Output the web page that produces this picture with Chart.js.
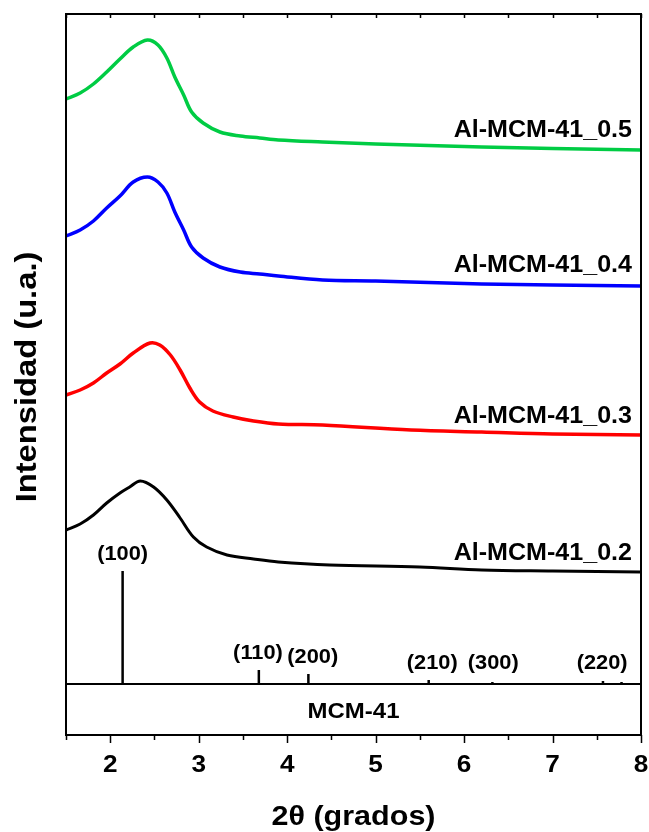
<!DOCTYPE html>
<html>
<head>
<meta charset="utf-8">
<script src="https://cdn.jsdelivr.net/npm/chart.js@4.4.1/dist/chart.umd.min.js"></script>
<style>
  body { margin: 0; background: #fff; }
  canvas { display: block; }
</style>
</head>
<body>
<canvas id="xrd" width="649" height="832"></canvas>
<script>
// 2theta (grados) / intensity (a.u., curves already stacked)
const x05 = [1.5, 1.66, 1.81, 1.96, 2.11, 2.26, 2.42, 2.54, 2.64, 2.73, 2.83, 2.92, 3.05, 3.24, 3.47, 3.69, 3.90, 4.4, 5.0, 6.2, 7.0, 8.0];
const y05 = [636, 642, 651, 663, 676, 688, 695, 690, 677, 658, 640, 623, 612, 603, 599, 597, 595, 593, 591, 588, 586.5, 585];
const x04 = x05;
const y04 = [499, 505, 514, 527, 539, 553, 558, 553, 542, 523, 505, 488, 477, 468, 463, 461, 459, 455, 454, 451, 450, 449];
const x03 = [1.5, 1.66, 1.81, 1.96, 2.11, 2.26, 2.45, 2.56, 2.68, 2.79, 2.90, 3.01, 3.16, 3.39, 3.62, 3.90, 4.4, 5.4, 6.2, 7.0, 8.0];
const y03 = [340, 345, 352, 362, 371, 382, 392, 390, 380, 365, 347, 333, 324, 318, 314, 311, 310, 305, 303, 301, 300];
const x02 = [1.5, 1.66, 1.81, 1.96, 2.11, 2.22, 2.34, 2.49, 2.64, 2.79, 2.94, 3.09, 3.32, 3.62, 3.90, 4.48, 5.5, 6.2, 7.0, 8.0];
const y02 = [205, 211, 220, 232, 242, 248, 254, 248, 235, 217, 198, 188, 180, 176, 173, 170, 168, 165, 164, 163];

const seriesNames = ['Al-MCM-41_0.5', 'Al-MCM-41_0.4', 'Al-MCM-41_0.3', 'Al-MCM-41_0.2'];

// MCM-41 reference pattern
const refPos = [2.14, 3.68, 4.24, 5.60, 6.32, 7.57, 7.78];
const refInt = [113, 14, 10, 4, 2, 3, 2];
const refBase = 51;
const refHkl = ['(100)', '(110)', '(200)', '(210)', '(300)', '(220)'];
const hklX = [2.14, 3.67, 4.29, 5.64, 6.33, 7.56];
const hklY = [175, 76, 72, 66, 66, 66];

const xTicks = [2, 3, 4, 5, 6, 7, 8];

const pts = (xs, ys) => xs.map((v, i) => ({ x: v, y: ys[i] }));

const sticks = [];
refPos.forEach((p, i) => {
  sticks.push({ x: p, y: refBase }, { x: p, y: refBase + refInt[i] }, { x: p, y: null });
});

function boldText(ctx, txt, x, y, size, align) {
  ctx.save();
  ctx.font = 'bold ' + size + 'px "Liberation Sans", Arial, sans-serif';
  ctx.fillStyle = '#000';
  ctx.translate(x, y);
  ctx.scale(1.09, 1);
  ctx.textAlign = align;
  ctx.textBaseline = 'alphabetic';
  ctx.fillText(txt, 0, 0);
  ctx.restore();
}

const tagBase = [598, 463, 312, 175];

const decor = {
  id: 'decor',
  afterDatasetsDraw(chart) {
    const { ctx, chartArea: a, scales: { x, y } } = chart;
    ctx.save();
    ctx.strokeStyle = '#000';
    ctx.lineWidth = 2;
    ctx.strokeRect(a.left, a.top, a.right - a.left, a.bottom - a.top);

    const yb = Math.round(y.getPixelForValue(refBase));
    ctx.beginPath();
    ctx.moveTo(a.left, yb);
    ctx.lineTo(a.right, yb);
    ctx.stroke();

    // ticks: outward at bottom, inward at top
    ctx.lineWidth = 1.5;
    for (let v = 1.5; v <= 8.001; v += 0.5) {
      const px = Math.round(x.getPixelForValue(v)) + 0.5;
      const major = Number.isInteger(v);
      ctx.beginPath();
      ctx.moveTo(px, a.bottom);
      ctx.lineTo(px, a.bottom + (major ? 8 : 5));
      ctx.moveTo(px, a.top);
      ctx.lineTo(px, a.top + 4);
      ctx.stroke();
    }
    ctx.restore();

    xTicks.forEach(t => boldText(ctx, String(t), x.getPixelForValue(t), 772, 24, 'center'));

    seriesNames.forEach((n, i) => boldText(ctx, n, a.right - 9, y.getPixelForValue(tagBase[i]), 23, 'right'));

    refHkl.forEach((h, i) => boldText(ctx, h, x.getPixelForValue(hklX[i]), y.getPixelForValue(hklY[i]), 20, 'center'));

    boldText(ctx, 'MCM-41', (a.left + a.right) / 2, 718, 22, 'center');

    boldText(ctx, '2\u03b8 (grados)', (a.left + a.right) / 2, 825, 28, 'center');

    ctx.save();
    ctx.translate(36, 377);
    ctx.rotate(-Math.PI / 2);
    boldText(ctx, 'Intensidad (u.a.)', 0, 0, 30, 'center');
    ctx.restore();
  }
};

const line = (data, color, w) => ({
  data,
  borderColor: color,
  borderWidth: w,
  pointRadius: 0,
  fill: false,
  tension: 0.35
});

new Chart(document.getElementById('xrd'), {
  type: 'line',
  data: {
    datasets: [
      line(pts(x05, y05), '#00cc44', 3.5),
      line(pts(x04, y04), '#0000ff', 3.5),
      line(pts(x03, y03), '#ff0000', 3.5),
      line(pts(x02, y02), '#000000', 3),
      {
        data: sticks,
        borderColor: '#000',
        borderWidth: 2.5,
        pointRadius: 0,
        tension: 0,
        spanGaps: false
      }
    ]
  },
  options: {
    responsive: false,
    animation: false,
    devicePixelRatio: 1,
    layout: { padding: { left: 66, right: 8, top: 14, bottom: 97 } },
    scales: {
      x: { type: 'linear', min: 1.5, max: 8, display: false },
      y: { type: 'linear', min: 0, max: 721, display: false }
    },
    plugins: {
      legend: { display: false },
      tooltip: { enabled: false }
    }
  },
  plugins: [decor]
});
</script>
</body>
</html>
